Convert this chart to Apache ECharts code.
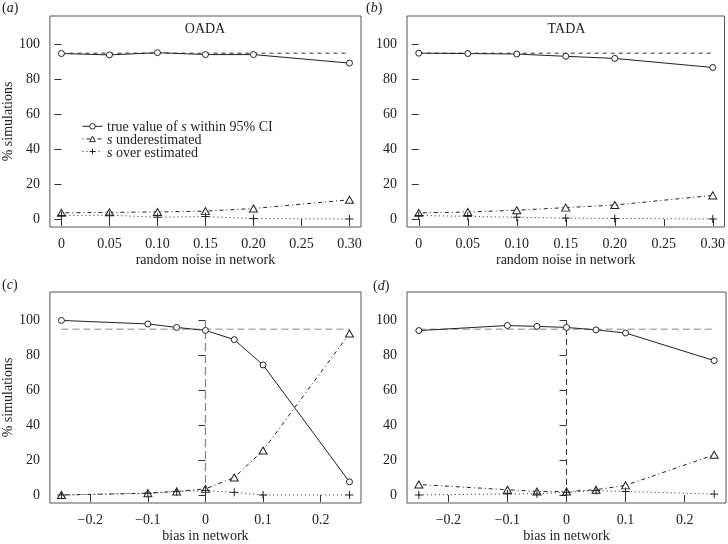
<!DOCTYPE html>
<html>
<head>
<meta charset="utf-8">
<script src="https://cdn.jsdelivr.net/npm/echarts@6/dist/echarts.min.js"></script>
<style>html,body{margin:0;padding:0;background:#fff}#c{width:728px;height:544px}</style>
</head>
<body>
<div id="c"></div>
<script>
// ---- data ----
const noiseX = [0, 0.05, 0.10, 0.15, 0.20, 0.30];
const biasX = [-0.25, -0.1, -0.05, 0, 0.05, 0.1, 0.25];

const oadaNoiseWithin = [94.8, 94.0, 95.3, 94.2, 94.2, 89.3];
const oadaNoiseUnder  = [3.5, 3.8, 4.0, 4.5, 6.0, 11.0];
const oadaNoiseOver   = [2.0, 2.2, 1.0, 1.4, 0.2, 0.0];

const tadaNoiseWithin = [95.0, 94.8, 94.5, 93.2, 92.0, 86.8];
const tadaNoiseUnder  = [3.5, 4.0, 5.0, 6.5, 8.0, 13.5];
const tadaNoiseOver   = [2.0, 1.5, 1.0, 0.5, 0.3, 0.0];

const oadaBiasWithin = [100, 98, 96, 94.3, 89, 74.5, 7.5];
const oadaBiasUnder  = [0, 1, 2, 3.5, 10, 25.5, 92.5];
const oadaBiasOver   = [0, 1, 2, 2.5, 1.5, 0, 0];

const tadaBiasWithin = [94.2, 97.1, 96.6, 96.0, 94.6, 92.8, 77.0];
const tadaBiasUnder  = [6.0, 3.0, 2.0, 2.0, 3.0, 5.5, 23.0];
const tadaBiasOver   = [0, 0.6, 0.6, 1.5, 2.5, 2.0, 0.5];

const refLevel = 95;          // horizontal reference (%)
const noiseRefX = [0, 0.30];
const biasRefX = [-0.25, 0.25];
const biasVertX = 0;
const biasVertY = [0, 100];

const yTicks = [0, 20, 40, 60, 80, 100];
const noiseTicks = [0, 0.05, 0.10, 0.15, 0.20, 0.25, 0.30];
const noiseTickLabels = ['0', '0.05', '0.10', '0.15', '0.20', '0.25', '0.30'];
const biasTicks = [-0.2, -0.1, 0, 0.1, 0.2];
const biasTickLabels = ['\u22120.2', '\u22120.1', '0', '0.1', '0.2'];

const panelLabels = ['a', 'b', 'c', 'd'];
const panelTitles = ['OADA', 'TADA', '', ''];
const seriesNames = ['within', 'under', 'over'];
const legendTexts = [
  '{n|true value of }{i|s}{n| within 95% CI}',
  '{i|s}{n| underestimated}',
  '{i|s}{n| over estimated}'
];
const yTitle = '% simulations';
const xTitles = ['random noise in network', 'random noise in network', 'bias in network', 'bias in network'];

// ---- styling ----
const FONT = 'Liberation Serif';
const INK = '#222';
const grids = [
  {left: 49, top: 16, width: 312, height: 211},
  {left: 407, top: 16, width: 319, height: 211},
  {left: 49, top: 292, width: 312, height: 211},
  {left: 407, top: 292, width: 319, height: 211}
];

function labelFor(ticks, labels) {
  return function (v) {
    let best = 0, d = Infinity;
    ticks.forEach((t, i) => { if (Math.abs(t - v) < d) { d = Math.abs(t - v); best = i; } });
    return labels[best];
  };
}

const xAxes = [], yAxes = [], series = [];
const panelData = [
  [noiseX, oadaNoiseWithin, oadaNoiseUnder, oadaNoiseOver],
  [noiseX, tadaNoiseWithin, tadaNoiseUnder, tadaNoiseOver],
  [biasX, oadaBiasWithin, oadaBiasUnder, oadaBiasOver],
  [biasX, tadaBiasWithin, tadaBiasUnder, tadaBiasOver]
];

const circleSym = 'path://M10,5A5,5,0,1,1,0,5A5,5,0,1,1,10,5Z';
const triSym = 'path://M5,0L10,9L0,9Z';
const plusSym = 'path://M0,5L10,5M5,0L5,10';
const symbols = [circleSym, triSym, plusSym];
const symSizes = [6, [8, 7], 8];
const symFill = ['#fff', '#fff', INK];
const lineTypes = ['solid', [1, 3, 4, 3], [1, 3]];

for (let p = 0; p < 4; p++) {
  const isNoise = p < 2;
  const ticks = isNoise ? noiseTicks : biasTicks;
  const tlabels = isNoise ? noiseTickLabels : biasTickLabels;
  xAxes.push({
    type: 'value', gridIndex: p,
    min: isNoise ? -0.012 : -0.27, max: isNoise ? 0.312 : 0.27,
    axisLine: {show: false}, splitLine: {show: false},
    axisTick: {show: true, customValues: ticks, length: 7, lineStyle: {color: '#333', width: 1}},
    axisLabel: {customValues: ticks, formatter: labelFor(ticks, tlabels), margin: 10,
      fontFamily: FONT, fontSize: 14, color: INK},
    name: xTitles[p], nameLocation: 'middle', nameGap: 26,
    nameTextStyle: {fontFamily: FONT, fontSize: 14, color: INK}
  });
  yAxes.push({
    type: 'value', gridIndex: p, min: -4.6, max: 116.3,
    axisLine: {show: false}, splitLine: {show: false},
    axisTick: {show: true, customValues: yTicks, length: 7, lineStyle: {color: '#333', width: 1}},
    axisLabel: {customValues: yTicks, margin: 10, fontFamily: FONT, fontSize: 14, color: INK},
    name: (p % 2 === 0) ? yTitle : '', nameLocation: 'middle', nameGap: 29,
    nameTextStyle: {fontFamily: FONT, fontSize: 14, color: INK}
  });

  const d = panelData[p];
  const xs = d[0];
  const refX = isNoise ? noiseRefX : biasRefX;
  series.push({
    type: 'line', xAxisIndex: p, yAxisIndex: p, silent: true, symbol: 'none', z: 1,
    data: refX.map(x => [x, refLevel]),
    lineStyle: {color: isNoise ? '#333' : '#888', width: 1, type: isNoise ? [4, 4] : [7, 4]}
  });
  if (!isNoise) {
    series.push({
      type: 'line', xAxisIndex: p, yAxisIndex: p, silent: true, symbol: 'none', z: 1,
      data: biasVertY.map(y => [biasVertX, y]),
      lineStyle: {color: p === 2 ? '#888' : '#333', width: p === 2 ? 1.3 : 1, type: p === 2 ? [8, 4] : [6, 4]}
    });
  }
  for (let s = 0; s < 3; s++) {
    const ys = d[s + 1];
    series.push({
      name: seriesNames[s], type: 'line', xAxisIndex: p, yAxisIndex: p, z: 3,
      data: xs.map((x, i) => [x, ys[i]]),
      symbol: symbols[s], symbolSize: symSizes[s], showAllSymbol: true,
      lineStyle: {color: INK, width: 1, type: lineTypes[s]},
      itemStyle: {color: symFill[s], borderColor: INK, borderWidth: 1},
      emphasis: {disabled: true}
    });
  }
}

const graphic = [];
const labelPos = [[2, 1], [366, 1], [2, 278], [373, 279]];
panelLabels.forEach((l, i) => {
  graphic.push({type: 'text', x: labelPos[i][0], y: labelPos[i][1],
    style: {text: '({i|' + l + '})', fontFamily: FONT, fontSize: 14, fill: INK,
      rich: {i: {fontFamily: FONT, fontSize: 14, fontStyle: 'italic', fill: INK}}}});
});
panelTitles.forEach((t, i) => {
  if (!t) return;
  const g = grids[i];
  graphic.push({type: 'text', x: g.left + g.width / 2, y: 22,
    style: {text: t, align: 'center', fontFamily: FONT, fontSize: 14, fill: INK}});
});
// legend labels (rich text, italic s)
const legendTop = 123, legendPitch = 13;
legendTexts.forEach((t, i) => {
  graphic.push({type: 'text', x: 107, y: legendTop + 4 + i * legendPitch,
    style: {text: t, verticalAlign: 'middle', fontFamily: FONT, fontSize: 14, fill: INK,
      rich: {n: {fontFamily: FONT, fontSize: 14, fill: INK},
             i: {fontFamily: FONT, fontSize: 14, fontStyle: 'italic', fill: INK}}}});
});

const chart = echarts.init(document.getElementById('c'), null, {renderer: 'canvas'});
chart.setOption({
  animation: false,
  backgroundColor: '#fff',
  grid: grids.map(g => Object.assign({show: true, borderColor: '#555', borderWidth: 1, backgroundColor: 'transparent'}, g)),
  xAxis: xAxes, yAxis: yAxes, series: series, graphic: graphic,
  legend: {
    left: 82, top: legendTop, padding: 0, orient: 'vertical', itemWidth: 20, itemHeight: 7,
    itemGap: legendPitch - 7, selectedMode: false,
    data: seriesNames,
    itemStyle: {borderWidth: 1},
    lineStyle: {width: 1},
    formatter: function () { return ''; },
    textStyle: {fontSize: 7, lineHeight: 7}
  }
});
</script>
</body>
</html>
